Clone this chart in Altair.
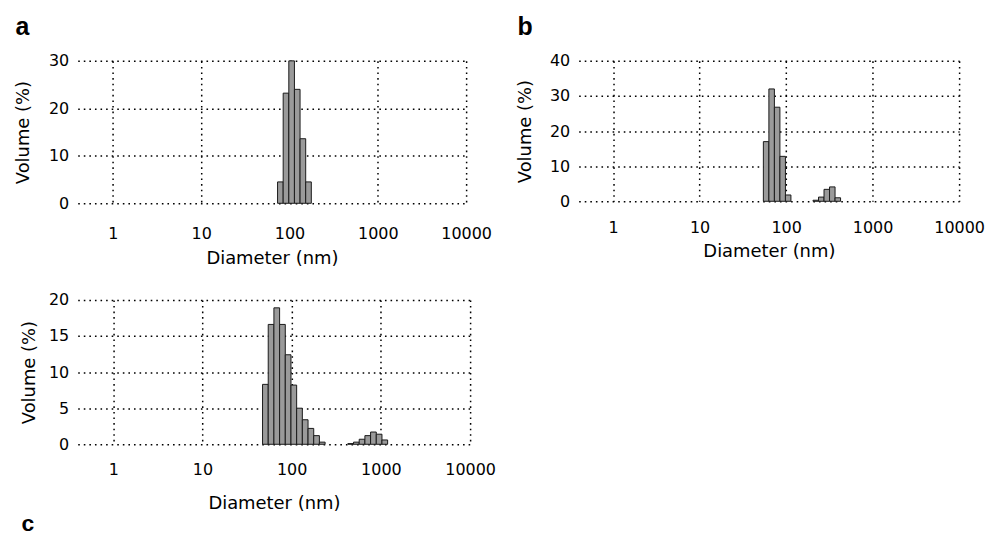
import math
import altair as alt
import pandas as pd

# Zetasizer size classes: neighbouring classes differ by this ratio
BIN_RATIO = 1.1581
HALF = math.sqrt(BIN_RATIO)

x_ticks = [1, 10, 100, 1000, 10000]
x_domain = [0.4, 10000]

# panel a
a_diam = [78.82, 91.28, 105.7, 122.4, 141.8, 164.2]
a_vol = [4.5, 23.2, 30.0, 24.0, 13.6, 4.5]

# panel b
b_diam = [58.77, 68.06, 78.82, 91.28, 105.7, 220.2, 255.0, 295.3, 342.0, 396.1]
b_vol = [17.0, 32.0, 26.8, 12.8, 1.8, 0.3, 1.2, 3.4, 4.1, 1.0]

# panel c
c_diam = [50.75, 58.77, 68.06, 78.82, 91.28, 105.7, 122.4, 141.8, 164.2, 190.1,
          220.2, 458.7, 531.2, 615.1, 712.4, 825.0, 955.4, 1106.0]
c_vol = [8.3, 16.6, 18.9, 16.6, 12.4, 8.2, 5.0, 3.4, 2.2, 1.2,
         0.3, 0.1, 0.3, 0.7, 1.2, 1.7, 1.4, 0.6]

FONT = "DejaVu Sans"


def panel(diam, vol, ymax, ystep, letter, w, h, lab_pad, title_pad, ytitle_pad,
          t_orient, t_offset, t_size):
    df = pd.DataFrame({"d": diam, "v": vol})
    y_ticks = list(range(0, ymax + 1, ystep))
    grid = dict(grid=True, gridDash=[1.6, 4], gridColor="black", gridWidth=1.5,
                domain=False, ticks=False, labelFont=FONT, labelFontSize=16,
                labelColor="black", titleFont=FONT, titleFontSize=18,
                titleFontWeight="normal", titleColor="black")
    return (
        alt.Chart(df)
        .transform_calculate(lo=f"datum.d / {HALF}", hi=f"datum.d * {HALF}")
        .mark_bar(fill="#9a9a9a", stroke="#1a1a1a", strokeWidth=1)
        .encode(
            x=alt.X("lo:Q", scale=alt.Scale(type="log", domain=x_domain),
                    axis=alt.Axis(values=x_ticks, format="d", labelFlush=False,
                                  labelOverlap=False, labelPadding=lab_pad,
                                  titlePadding=title_pad, **grid),
                    title="Diameter (nm)"),
            x2="hi:Q",
            y=alt.Y("v:Q", scale=alt.Scale(domain=[0, ymax], nice=False),
                    axis=alt.Axis(values=y_ticks, labelPadding=9,
                                  titlePadding=ytitle_pad, **grid),
                    title="Volume (%)"),
            y2=alt.datum(0),
        )
        .properties(
            width=w, height=h,
            title=alt.TitleParams(letter, anchor="start", frame="bounds",
                                  orient=t_orient, offset=t_offset,
                                  font="Liberation Sans", fontSize=t_size,
                                  fontWeight="bold", color="black", dx=1),
        )
    )


pa = panel(a_diam, a_vol, 30, 10, "a", 390, 143, 22, 8, 16, "top", 13, 25)
pb = panel(b_diam, b_vol, 40, 10, "b", 382, 141, 18, 7, 15, "top", 13, 25)
pc = panel(c_diam, c_vol, 20, 5, "c", 394, 145, 17, 17, 10, "bottom", 1, 23)

row1 = alt.hconcat(pa, pb, spacing=24)
chart = (
    alt.vconcat(row1, pc, spacing=25)
    .properties(padding={"left": 6, "top": 6, "right": 0, "bottom": 0},
                background="white")
    .configure_view(strokeWidth=0)
)

chart.save("out.html", embed_options={"renderer": "svg", "actions": False})
